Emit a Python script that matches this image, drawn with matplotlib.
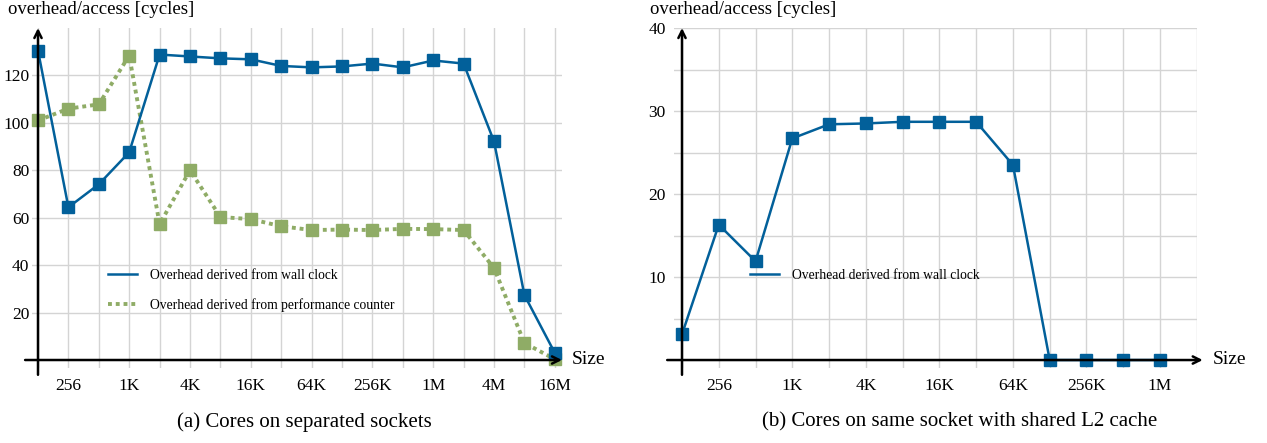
import numpy as np
import matplotlib
matplotlib.use("Agg")
import matplotlib.pyplot as plt
from matplotlib.ticker import FixedLocator, NullFormatter

# =========================
# DATA
# =========================
sizes_a = [2**k for k in range(7, 25)]          # 128 .. 16M
wall_a = [130.5, 64.4, 74.1, 87.6, 128.8, 128.0, 127.2, 126.8, 124.0,
          123.4, 123.8, 125.0, 123.4, 126.3, 125.0, 92.2, 27.4, 3.0]
perf_a = [101.0, 106.0, 107.8, 128.4, 57.3, 80.0, 60.3, 59.4, 56.4,
          54.8, 55.0, 54.8, 55.3, 55.2, 54.8, 38.8, 7.2, 0.3]

sizes_b = [2**k for k in range(7, 21)]          # 128 .. 1M
wall_b = [3.1, 16.3, 11.9, 26.7, 28.4, 28.5, 28.7, 28.7, 28.7,
          23.5, 0.0, 0.0, 0.0, 0.0]

xtick_vals_a = [2**k for k in range(8, 25, 2)]
xtick_labels_a = ["256", "1K", "4K", "16K", "64K", "256K", "1M", "4M", "16M"]
xtick_vals_b = [2**k for k in range(8, 21, 2)]
xtick_labels_b = ["256", "1K", "4K", "16K", "64K", "256K", "1M"]

yticks_a = [20, 40, 60, 80, 100, 120]
yticks_b = [10, 20, 30, 40]

label_wall = "Overhead derived from wall clock"
label_perf = "Overhead derived from performance counter"
ylabel = "overhead/access [cycles]"
captions = ["(a) Cores on separated sockets",
            "(b) Cores on same socket with shared L2 cache"]

BLUE = "#02609a"
GREEN = "#8fac66"
GRID = "#d4d4d4"

plt.rcParams["font.family"] = ["Liberation Serif", "DejaVu Serif"]

W, H = 1267, 443
fig = plt.figure(figsize=(W / 100, H / 100), dpi=100)


def px_axes(x0, x1, ytop, ybot):
    return fig.add_axes([x0 / W, 1 - ybot / H, (x1 - x0) / W, (ybot - ytop) / H])


def setup(ax, xlim, ylim, xtv, xtl, ytv, yminor, x_start, x_tip, y_bottom, ypad):
    ax.set_xscale("log", base=2)
    ax.set_xlim(*xlim)
    ax.set_ylim(*ylim)
    for s in ax.spines.values():
        s.set_visible(False)
    # grid every doubling, labels every other one
    allx = [2**k for k in range(7, int(np.log2(xlim[1])) + 1)]
    ax.xaxis.set_major_locator(FixedLocator(xtv))
    ax.set_xticklabels(xtl)
    ax.xaxis.set_minor_locator(FixedLocator([v for v in allx if v not in xtv]))
    ax.xaxis.set_minor_formatter(NullFormatter())
    ax.set_yticks(ytv)
    if yminor:
        ax.yaxis.set_minor_locator(FixedLocator(yminor))
    ax.grid(True, which="both", color=GRID, lw=1.0, zorder=0)
    ax.tick_params(which="both", length=0)
    ax.tick_params(axis="x", pad=7, labelsize=12.5)
    ax.tick_params(axis="y", pad=ypad, labelsize=12.5)
    # axis lines with arrows
    ax.annotate("", xy=(x_tip, 0), xytext=(x_start, 0),
                xycoords=("axes fraction", "data"), textcoords=("axes fraction", "data"),
                arrowprops=dict(arrowstyle="->", lw=1.8, color="black",
                                shrinkA=0, shrinkB=0, mutation_scale=13),
                annotation_clip=False, zorder=5)
    ax.annotate("", xy=(128, 1.0), xytext=(128, y_bottom),
                xycoords=("data", "axes fraction"), textcoords=("data", "axes fraction"),
                arrowprops=dict(arrowstyle="->", lw=1.8, color="black",
                                shrinkA=0, shrinkB=0, mutation_scale=13),
                annotation_clip=False, zorder=5)


# ---------- (a) ----------
ax1 = px_axes(32, 562, 28, 368)
setup(ax1, (2**(7 - 6 / 30.4), 2**(7 + 524 / 30.4)), (-3.37, 140),
      xtick_vals_a, xtick_labels_a, yticks_a, None,
      -0.013, 1.0, -0.02, 2)
ax1.plot(sizes_a, wall_a, color=BLUE, lw=1.8, marker="s", markersize=8.5,
         label=label_wall, zorder=4, clip_on=False)
ax1.plot(sizes_a, perf_a, color=GREEN, lw=2.8, dashes=(1, 1), dash_capstyle="butt",
         marker="s", markersize=8.5, label=label_perf, zorder=3, clip_on=False)
h1 = [plt.Line2D([], [], color=BLUE, lw=1.8),
      plt.Line2D([], [], color=GREEN, lw=2.8, dashes=(1, 1), dash_capstyle="butt")]
ax1.legend(h1, [label_wall, label_perf], loc="upper left", frameon=False,
           fontsize=9.8, borderpad=0, handlelength=2.1, handletextpad=0.95,
           labelspacing=1.2, borderaxespad=0,
           bbox_to_anchor=(108 / W, 1 - 269 / H), bbox_transform=fig.transFigure)
fig.text(8 / W, 1 - 10 / H, ylabel, fontsize=13.5, va="center", ha="left")
fig.text(572 / W, 1 - 360 / H, "Size", fontsize=14, va="center", ha="left")
fig.text(304 / W, 1 - 422 / H, captions[0], fontsize=15, va="center", ha="center")

# ---------- (b) ----------
ax2 = px_axes(674, 1197, 28, 368)
setup(ax2, (2**(7 - 8 / 36.77), 2**(7 + 515 / 36.77)), (-0.96, 40),
      xtick_vals_b, xtick_labels_b, yticks_b, [5, 15, 25, 35],
      -0.013, 1.011, -0.02, 6)
ax2.plot(sizes_b, wall_b, color=BLUE, lw=1.8, marker="s", markersize=8.5,
         label=label_wall, zorder=4, clip_on=False)
ax2.legend([plt.Line2D([], [], color=BLUE, lw=1.8)], [label_wall], loc="upper left",
           frameon=False, fontsize=9.8, borderpad=0, handlelength=2.1,
           handletextpad=0.95, borderaxespad=0,
           bbox_to_anchor=(750 / W, 1 - 269 / H), bbox_transform=fig.transFigure)
fig.text(650 / W, 1 - 10 / H, ylabel, fontsize=13.5, va="center", ha="left")
fig.text(1213 / W, 1 - 360 / H, "Size", fontsize=14, va="center", ha="left")
fig.text(960 / W, 1 - 422 / H, captions[1], fontsize=15, va="center", ha="center")

fig.savefig("out.png", dpi=100)
